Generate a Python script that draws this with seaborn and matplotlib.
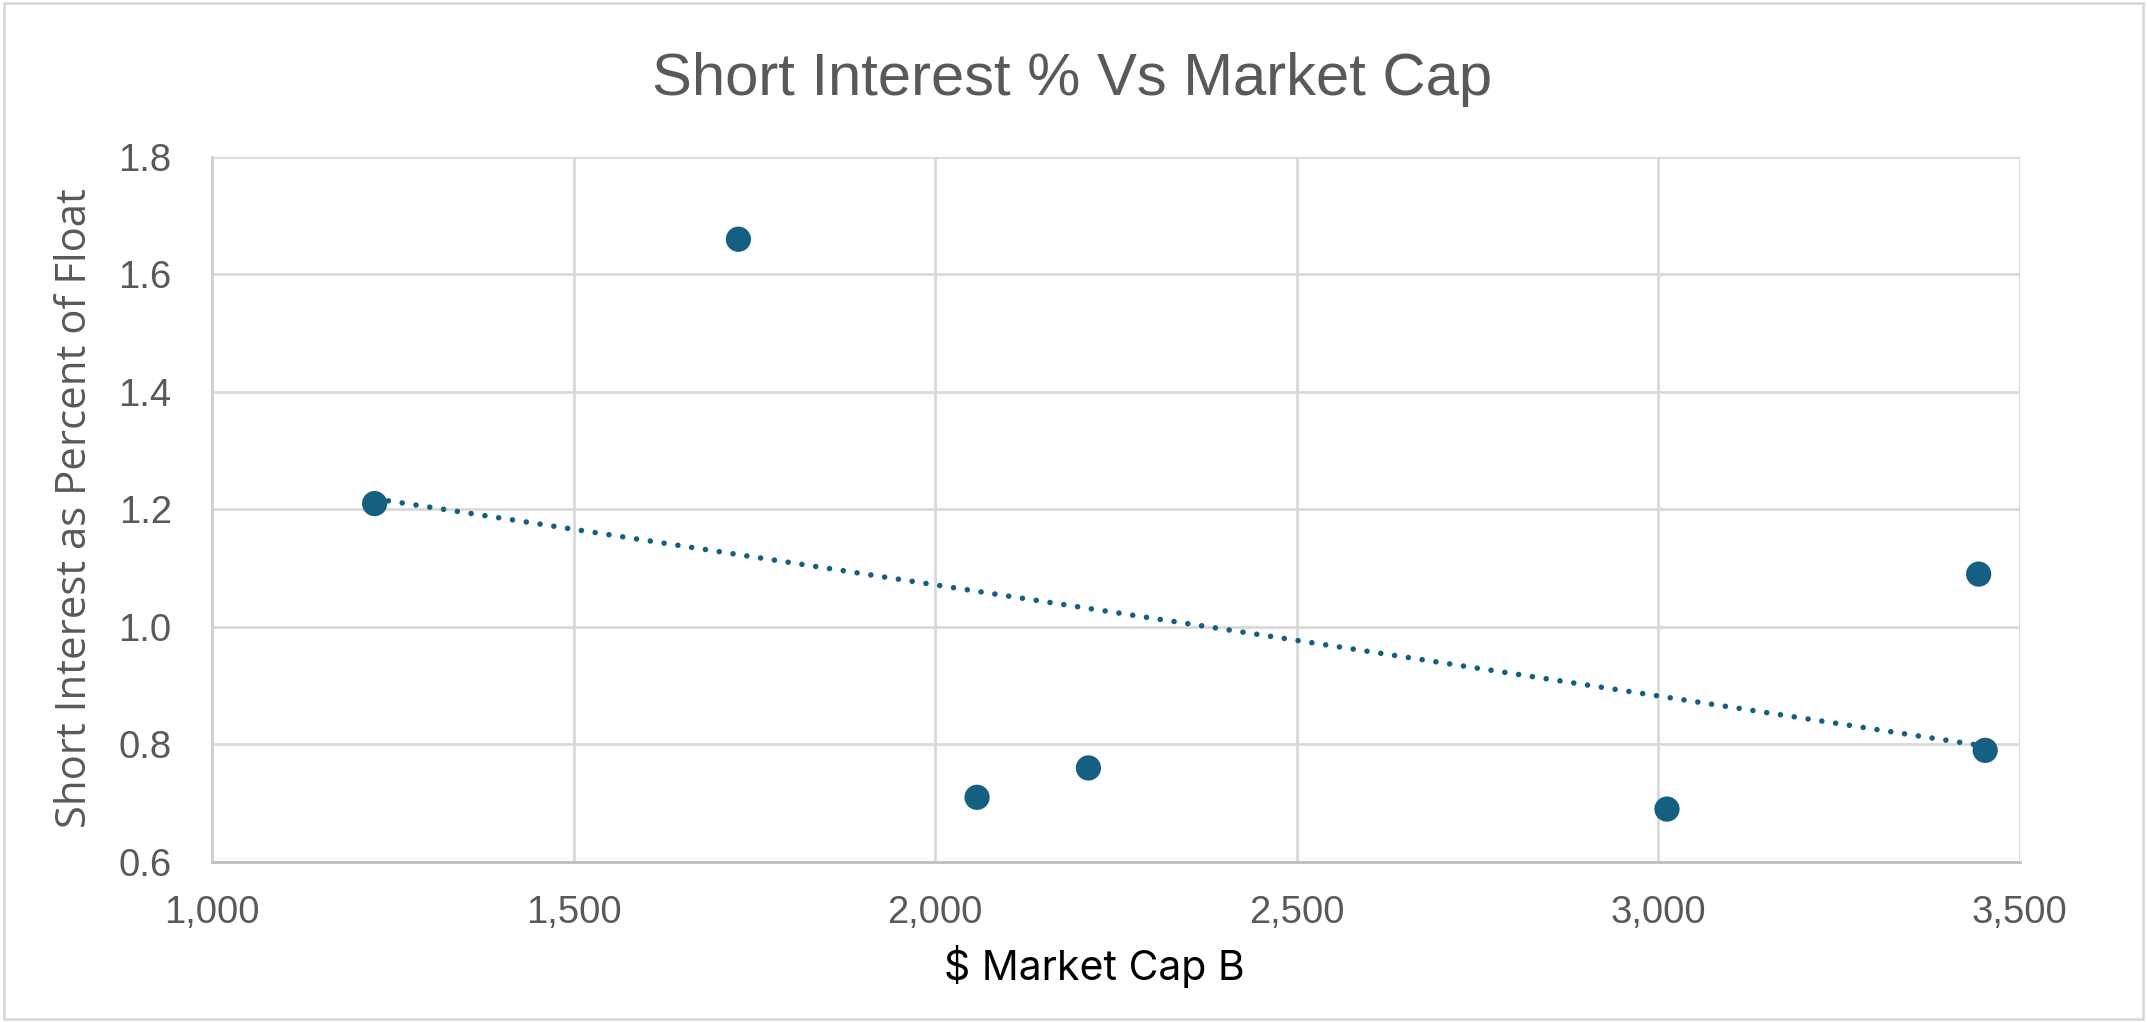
import matplotlib
matplotlib.use("Agg")
import matplotlib.pyplot as plt
import matplotlib.ticker as mticker
import pandas as pd
import seaborn as sns

# ── Data ──────────────────────────────────────────────────────────────────────
market_cap = [1225, 1728, 2058, 2212, 3012, 3443, 3452]
short_interest = [1.21, 1.66, 0.71, 0.76, 0.69, 1.09, 0.79]

x_ticks = [1000, 1500, 2000, 2500, 3000, 3500]
y_ticks = [0.6, 0.8, 1.0, 1.2, 1.4, 1.6, 1.8]

df = pd.DataFrame({"cap": market_cap, "si": short_interest})

# ── Style ─────────────────────────────────────────────────────────────────────
sns.set_style("white")
plt.rcParams["font.family"] = ["Liberation Sans", "DejaVu Sans"]

BLUE = "#156082"
TEXT = "#595959"
GRID = "#D9D9D9"

fig = plt.figure(figsize=(21.47, 10.22), dpi=100)
ax = fig.add_axes([0.0987, 0.1566, 0.8421, 0.6898])

sns.regplot(
    data=df, x="cap", y="si", ax=ax, ci=None, truncate=True,
    scatter_kws={"s": 330, "color": BLUE, "edgecolor": "none", "alpha": 1, "zorder": 4},
    line_kws={"color": BLUE, "lw": 4, "dashes": (0.01, 2.5),
              "dash_capstyle": "round", "zorder": 3},
)

ax.set_xlim(1000, 3500)
ax.set_ylim(0.6, 1.8)
ax.set_xticks(x_ticks)
ax.set_yticks(y_ticks)
ax.xaxis.set_major_formatter(mticker.FuncFormatter(lambda v, _: f"{v:,.0f}"))
ax.yaxis.set_major_formatter(mticker.FormatStrFormatter("%.1f"))
ax.tick_params(axis="both", length=0, labelsize=27.5, labelcolor=TEXT)
ax.tick_params(axis="x", pad=24)
ax.tick_params(axis="y", pad=29)

ax.grid(True, color=GRID, lw=2)
ax.set_axisbelow(True)
for side in ["top", "right"]:
    ax.spines[side].set_visible(False)
ax.spines["left"].set_color("#CFCFCF")
ax.spines["left"].set_linewidth(2)
ax.spines["bottom"].set_color("#BFBFBF")
ax.spines["bottom"].set_linewidth(2)
ax.set_xlabel("")
ax.set_ylabel("")

# titles / axis labels placed like the Excel original
fig.text(0.4995, 0.907, "Short Interest % Vs Market Cap", fontsize=43, color=TEXT,
         ha="center", va="baseline")
fig.text(0.5095, 0.0411, "$ Market Cap B", fontsize=29.5, color="#000000",
         ha="center", va="baseline", family=["Inter", "DejaVu Sans"])
fig.text(0.035, 0.503, "Short Interest as Percent of Float", fontsize=30.2, color=TEXT,
         ha="center", va="center", rotation=90, family=["Open Sans", "DejaVu Sans"])

# thin chart-area border
fig.patches.append(plt.Rectangle((0.002, 0.003), 0.996, 0.994, transform=fig.transFigure,
                                 fill=False, edgecolor=GRID, lw=2))

fig.savefig("out.png", dpi=100)
plt.close(fig)
